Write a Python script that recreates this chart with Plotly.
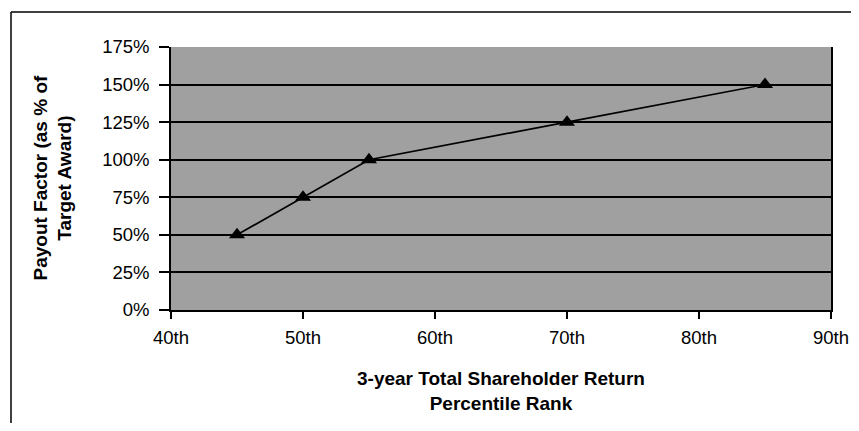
import plotly.graph_objects as go

percentile_rank = [45, 50, 55, 70, 85]
payout_factor = [50, 75, 100, 125, 150]
x_tick_vals = [40, 50, 60, 70, 80, 90]
x_tick_text = ["40th", "50th", "60th", "70th", "80th", "90th"]
y_tick_vals = [0, 25, 50, 75, 100, 125, 150, 175]
y_tick_text = ["0%", "25%", "50%", "75%", "100%", "125%", "150%", "175%"]

font_family = "Liberation Sans, Arial, sans-serif"

# figure is placed with an 8px page margin; work in figure coordinates
W, H = 843, 415
L, T, PW, PH = 163, 39, 660, 263
R, B = W - L - PW, H - T - PH


def px(fx):
    return (fx - L) / PW


def py(fy):
    return (T + PH - fy) / PH


fig = go.Figure()
fig.add_trace(go.Scatter(
    x=percentile_rank, y=payout_factor, mode="lines+markers",
    line=dict(color="black", width=1.7),
    marker=dict(symbol="triangle-up", size=14, color="black"),
    showlegend=False, cliponaxis=False,
))

fig.update_layout(
    width=W, height=H,
    margin=dict(l=L, r=R, t=T, b=B, autoexpand=False),
    paper_bgcolor="white", plot_bgcolor="#a0a0a0",
    font=dict(family=font_family, size=18.5, color="black"),
    xaxis=dict(range=[40, 90], tickvals=x_tick_vals, ticktext=x_tick_text,
               showgrid=False, zeroline=False, showline=True, linecolor="black", linewidth=1.5,
               ticks="outside", ticklen=7, tickcolor="black", tickwidth=1.5, automargin=False,
               tickfont=dict(size=18.5), ticklabelstandoff=3, fixedrange=True),
    yaxis=dict(range=[0, 175], tickvals=y_tick_vals, ticktext=y_tick_text,
               showgrid=True, gridcolor="black", gridwidth=1.5, zeroline=False,
               showline=True, linecolor="black", linewidth=1.5, mirror=True,
               ticks="outside", ticklen=10, tickcolor="black", tickwidth=1.5, automargin=False,
               tickfont=dict(size=18.5), ticklabelstandoff=6, fixedrange=True),
    annotations=[
        dict(text="<b>3-year Total Shareholder Return<br>Percentile Rank</b>",
             xref="paper", yref="paper", x=px(493), y=py(383),
             xanchor="center", yanchor="middle", showarrow=False, font=dict(size=19)),
        dict(text="<b>Payout Factor (as % of<br>Target Award)</b>",
             xref="paper", yref="paper", x=px(44), y=0.5,
             xanchor="center", yanchor="middle", textangle=-90, showarrow=False,
             font=dict(size=19)),
    ],
    shapes=[
        dict(type="line", xref="paper", yref="paper", x0=px(3), x1=px(W),
             y0=py(4), y1=py(4), line=dict(color="black", width=1.5)),
        dict(type="line", xref="paper", yref="paper", x0=px(3), x1=px(3),
             y0=py(4), y1=py(H), line=dict(color="black", width=1.5)),
    ],
)

fig.write_html("out.html")
